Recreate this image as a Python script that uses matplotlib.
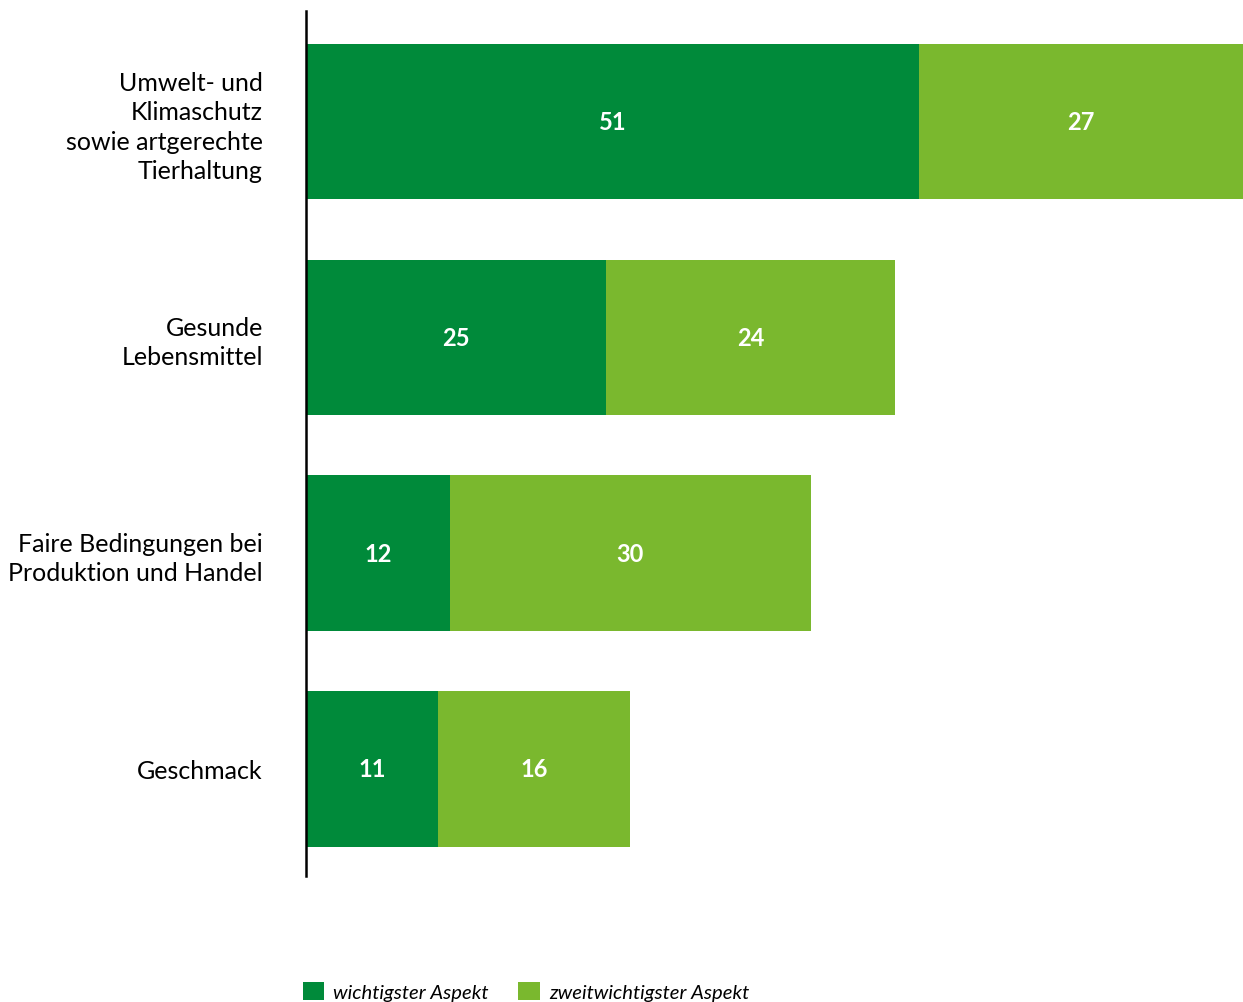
import numpy as np
import matplotlib
matplotlib.use('Agg')
import matplotlib.pyplot as plt

plt.rcParams['font.family'] = ['Lato', 'DejaVu Sans']

categories = ['Umwelt- und\nKlimaschutz\nsowie artgerechte\nTierhaltung',
              'Gesunde\nLebensmittel',
              'Faire Bedingungen bei\nProduktion und Handel',
              'Geschmack']
wichtigster = [51, 25, 12, 11]
zweitwichtigster = [27, 24, 30, 16]
series_names = ['wichtigster Aspekt', 'zweitwichtigster Aspekt']
colors = ['#008A3A', '#7AB82E']

W, H = 1243, 1003
fig = plt.figure(figsize=(W / 100, H / 100), dpi=100)
ax = fig.add_axes([306 / W, 1 - 877 / H, (W - 306) / W, (877 - 12) / H])

y = np.arange(len(categories))
b1 = ax.barh(y, wichtigster, height=0.72, color=colors[0], label=series_names[0])
b2 = ax.barh(y, zweitwichtigster, left=wichtigster, height=0.72,
             color=colors[1], label=series_names[1])

for bars in (b1, b2):
    ax.bar_label(bars, label_type='center', color='white', fontsize=17,
                 fontweight='bold')

ax.set_xlim(0, 78)
ax.set_ylim(3.496, -0.512)
ax.set_yticks(y)
ax.set_yticklabels(categories, fontsize=18, linespacing=1.32)
ax.tick_params(axis='y', length=0, pad=31)
ax.set_xticks([])
for s in ['top', 'right', 'bottom']:
    ax.spines[s].set_visible(False)
ax.spines['left'].set_linewidth(1.8)
ax.spines['left'].set_color('black')

leg = fig.legend(handles=[b1, b2], loc='lower left',
                 bbox_to_anchor=(303 / W, 1 / H), ncol=2, frameon=False,
                 prop={'style': 'italic', 'size': 14.6}, handlelength=1.05,
                 handleheight=1.05, handletextpad=0.45, columnspacing=1.45,
                 borderpad=0, borderaxespad=0)

plt.savefig('out.png', dpi=100)
